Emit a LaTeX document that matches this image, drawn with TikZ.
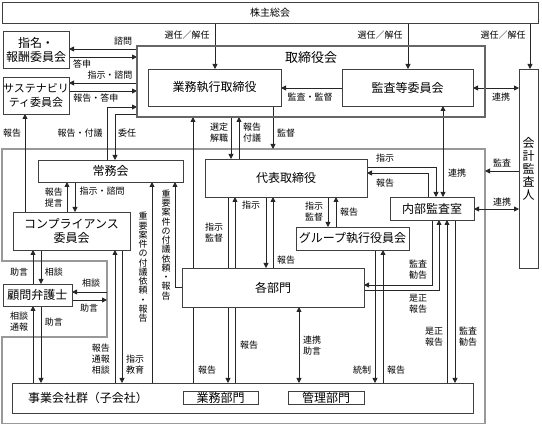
\documentclass[tikz,border=0pt]{standalone}
\usepackage{fontspec}
\setmainfont{Noto Sans CJK JP}
\usetikzlibrary{arrows.meta,backgrounds}
\begin{document}
\begin{tikzpicture}[x=1pt,y=-1pt,
  box/.style={draw=black!75,line width=0.9pt,fill=white,inner sep=0pt,outer sep=0pt,align=center,font=\fontsize{12}{14}\selectfont},
  lab/.style={inner sep=0pt,align=center,font=\fontsize{9}{11}\selectfont},
  vlab/.style={inner sep=0pt,align=center,font=\fontsize{9}{9.25}\selectfont},
  con/.style={draw=black!85,line width=0.8pt},
  arr/.style={con,-{Triangle[length=5pt,width=5pt]}},
  darr/.style={con,{Triangle[length=5pt,width=5pt]}-{Triangle[length=5pt,width=5pt]}},
  framel/.style={draw=black!40,line width=1.2pt},
]
\useasboundingbox (0,0) rectangle (542,425);

% boxes
\node[box,minimum width=536pt,minimum height=21pt,font=\fontsize{10}{12}\selectfont] (soukai) at (270,12.5) {株主総会};
\node[box,minimum width=66pt,minimum height=37pt] (shimei) at (36,49.5) {指名・\\報酬委員会};
\node[box,minimum width=66pt,minimum height=37pt,font=\fontsize{11}{14}\selectfont] (sustain) at (36,95.5) {サステナビリ\\ティ委員会};
\node[draw=black!60,line width=2pt,inner sep=0pt,outer sep=0pt,minimum width=348pt,minimum height=71pt] (board) at (311,81.5) {};
\node[inner sep=0pt,font=\fontsize{13}{15}\selectfont] (boardt) at (311,58) {取締役会};
\node[box,minimum width=133pt,minimum height=37pt] (gyoumu) at (214.5,87.5) {業務執行取締役};
\node[box,minimum width=131pt,minimum height=37pt] (kansa) at (407.5,87.5) {監査等委員会};
\node[box,minimum width=19pt,minimum height=199pt,font=\fontsize{12}{13}\selectfont] (kaikei) at (528.5,168.5) {会\\計\\監\\査\\人};
\node[box,minimum width=145pt,minimum height=22pt] (joumu) at (110.5,171) {常務会};
\node[box,minimum width=117pt,minimum height=38pt] (comp) at (71.5,231) {コンプライアンス\\委員会};
\node[box,minimum width=69pt,minimum height=22pt] (lawyer) at (37.5,295) {顧問弁護士};
\node[box,minimum width=461pt,minimum height=30pt] (jigyou) at (242.5,398) {};
\node[inner sep=0pt,font=\fontsize{12}{14}\selectfont] (jigyout) at (88,398) {事業会社群（子会社）};
\node[box,minimum width=75pt,minimum height=13pt] (gbu) at (220.5,397.5) {業務部門};
\node[box,minimum width=76pt,minimum height=13pt] (kbu) at (326,397.5) {管理部門};
\node[box,minimum width=182pt,minimum height=39pt] (kakubu) at (273,287.5) {各部門};
\node[box,minimum width=162pt,minimum height=38pt] (daihyou) at (286,178) {代表取締役};
\node[box,minimum width=113pt,minimum height=23pt] (group) at (352.5,238.5) {グループ執行役員会};
\node[box,minimum width=84pt,minimum height=23pt] (naibu) at (432,208.5) {内部監査室};

% frame corners
\coordinate (f1) at (2,149);
\coordinate (f2) at (485,149);
\coordinate (f3) at (485,423.5);
\coordinate (f4) at (2,423.5);
\coordinate (f5) at (2,337);
\coordinate (f6) at (107,337);
\coordinate (f7) at (107,261);
\coordinate (f8) at (2,261);

% labels
\node[lab] (l1) at (187,35) {選任／解任};
\node[lab] (l2) at (380,35) {選任／解任};
\node[lab] (l3) at (503,35) {選任／解任};
\node[lab] (l4) at (123,41) {諮問};
\node[lab] (l5) at (82,64) {答申};
\node[lab] (l6) at (110,75) {指示・諮問};
\node[lab] (l7) at (96,98) {報告・答申};
\node[lab] (l8) at (12,133) {報告};
\node[lab] (l9) at (80,133) {報告・付議};
\node[lab] (l10) at (127,133) {委任};
\node[lab] (l11) at (219,132.5) {選定\\解職};
\node[lab] (l12) at (252,132.5) {報告\\付議};
\node[lab] (l13) at (286,133) {監督};
\node[lab] (l14) at (310,97) {監査・監督};
\node[lab] (l15) at (501,97) {連携};
\node[lab] (l16) at (54,197.5) {報告\\提言};
\node[lab] (l17) at (102,191) {指示・諮問};
\node[lab] (l18) at (19,272) {助言};
\node[lab] (l19) at (54,272) {相談};
\node[lab] (l20) at (91,283) {相談};
\node[lab] (l21) at (89,308) {助言};
\node[lab] (l22) at (19,321.5) {相談\\通報};
\node[lab] (l23) at (54,322) {助言};
\node[lab] (l24) at (101,359) {報告\\通報\\相談};
\node[lab] (l25) at (135,365) {指示\\教育};
\node[lab] (l26) at (251,205) {指示};
\node[lab] (l27) at (214,233) {指示\\監督};
\node[lab] (l28) at (314,212) {指示\\監督};
\node[lab] (l29) at (349,212) {報告};
\node[lab] (l30) at (286,260) {報告};
\node[lab] (l31) at (385,158) {指示};
\node[lab] (l32) at (385,183) {報告};
\node[lab] (l33) at (457,173) {連携};
\node[lab] (l34) at (502,163) {監査};
\node[lab] (l35) at (502,202) {連携};
\node[lab] (l36) at (418,269.5) {監査\\勧告};
\node[lab] (l37) at (418,304) {是正\\報告};
\node[lab] (l38) at (434,337) {是正\\報告};
\node[lab] (l39) at (468,337) {監査\\勧告};
\node[lab] (l40) at (362,370) {統制};
\node[lab] (l41) at (396,370) {報告};
\node[lab] (l42) at (312,345.5) {連携\\助言};
\node[lab] (l43) at (249,345) {報告};
\node[lab] (l44) at (207,370) {報告};
\node[vlab] (v1) at (143,267.5) {重\\要\\案\\件\\の\\付\\議\\依\\頼\\・\\報\\告};
\node[vlab] (v2) at (166,245) {重\\要\\案\\件\\の\\付\\議\\依\\頼\\・\\報\\告};

\begin{scope}[on background layer]
\draw[framel] (f1) -- (f2) -- (f3) -- (f4) -- (f5) -- (f6) -- (f7) -- (f8) -- cycle;
% shareholders
\draw[arr] (215,0 |- soukai.south) -- (215,0 |- gyoumu.north);
\draw[arr] (408,0 |- soukai.south) -- (408,0 |- kansa.north);
\draw[arr] (530,0 |- soukai.south) -- (530,0 |- kaikei.north);
% committees
\draw[arr] (board.west |- 0,49) -- (shimei.east |- 0,49);
\draw[arr] (shimei.east |- 0,57) -- (board.west |- 0,57);
\draw[arr] (board.west |- 0,83) -- (sustain.east |- 0,83);
\draw[arr] (sustain.east |- 0,91) -- (board.west |- 0,91);
\draw[arr] (25,0 |- comp.north) -- (25,0 |- sustain.south);
\draw[arr] (107,0 |- joumu.north) -- (107,107) -- (board.west |- 0,107);
\draw[arr] (board.west |- 0,114) -- (115,114) -- (115,0 |- joumu.north);
% board - representative
\draw[arr] (231,0 |- board.south) -- (231,0 |- daihyou.north);
\draw[arr] (239,0 |- daihyou.north) -- (239,0 |- board.south);
\draw[arr] (193,0 |- jigyou.north) -- (193,0 |- board.south);
\draw[arr] (273,0 |- gyoumu.south) -- (273,0 |- f1);
\draw[arr] (kansa.west |- 0,88) -- (gyoumu.east |- 0,88);
\draw[darr] (kansa.east |- 0,88) -- (kaikei.west |- 0,88);
\draw[darr] (443,0 |- kansa.south) -- (443,0 |- naibu.north);
% representative - departments
\draw[arr] (228,0 |- daihyou.south) -- (228,0 |- jigyou.north);
\draw[arr] (235,0 |- jigyou.north) -- (235,0 |- daihyou.south);
\draw[arr] (266,0 |- daihyou.south) -- (266,0 |- kakubu.north);
\draw[arr] (273,0 |- kakubu.north) -- (273,0 |- daihyou.south);
\draw[arr] (daihyou.east |- 0,167) -- (436,167) -- (436,0 |- naibu.north);
\draw[arr] (428,0 |- naibu.north) -- (428,173) -- (daihyou.east |- 0,173);
\draw[arr] (kaikei.west |- 0,171) -- (f2 |- 0,171);
\draw[darr] (naibu.east |- 0,209) -- (kaikei.west |- 0,209);
\draw[arr] (328,0 |- daihyou.south) -- (328,0 |- group.north);
\draw[arr] (336,0 |- group.north) -- (336,0 |- daihyou.south);
\draw[arr] (375,0 |- group.south) -- (375,0 |- jigyou.north);
\draw[arr] (383,0 |- jigyou.north) -- (383,0 |- group.south);
\draw[arr] (432,0 |- naibu.south) -- (432,285) -- (kakubu.east |- 0,285);
\draw[arr] (kakubu.east |- 0,290) -- (439,290) -- (439,0 |- naibu.south);
\draw[arr] (447,0 |- jigyou.north) -- (447,0 |- naibu.south);
\draw[arr] (455,0 |- naibu.south) -- (455,0 |- jigyou.north);
\draw[darr] (299,0 |- kakubu.south) -- (299,0 |- jigyou.north);
% joumu / compliance
\draw[arr] (152,0 |- jigyou.north) -- (152,0 |- joumu.south);
\draw[arr] (kakubu.west |- 0,287) -- (175,287) -- (175,0 |- joumu.south);
\draw[arr] (122,0 |- comp.south) -- (122,0 |- jigyou.north);
\draw[arr] (115,0 |- jigyou.north) -- (115,0 |- comp.south);
\draw[arr] (67,0 |- comp.north) -- (67,0 |- joumu.south);
\draw[arr] (75,0 |- joumu.south) -- (75,0 |- comp.north);
\draw[arr] (33,0 |- lawyer.north) -- (33,0 |- comp.south);
\draw[arr] (41,0 |- comp.south) -- (41,0 |- lawyer.north);
\draw[arr] (f7 |- 0,292) -- (lawyer.east |- 0,292);
\draw[arr] (lawyer.east |- 0,300) -- (f7 |- 0,300);
\draw[arr] (33,0 |- jigyou.north) -- (33,0 |- lawyer.south);
\draw[arr] (41,0 |- lawyer.south) -- (41,0 |- jigyou.north);
\end{scope}
\end{tikzpicture}
\end{document}
